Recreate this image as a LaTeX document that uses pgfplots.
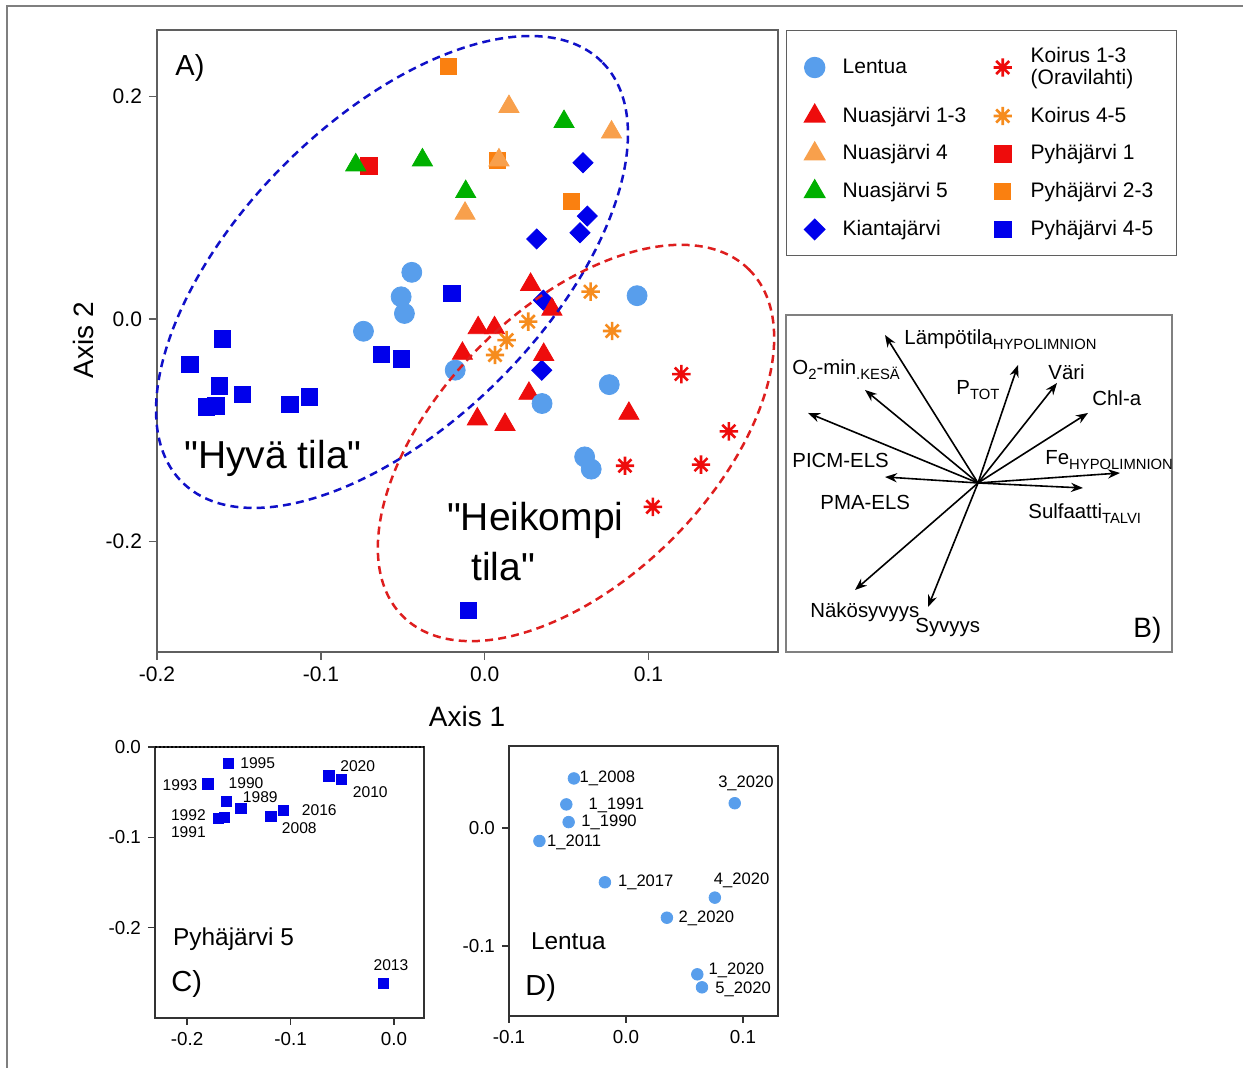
\documentclass[border=0pt]{standalone}
\usepackage{pgfplots}
\pgfplotsset{compat=1.18}
\usepackage{fontspec}
\setmainfont{Liberation Sans}
\usetikzlibrary{arrows.meta}
\definecolor{lentua}{RGB}{88,158,236}
\definecolor{cred}{RGB}{238,12,12}
\definecolor{lorange}{RGB}{248,160,76}
\definecolor{dorange}{RGB}{250,128,16}
\definecolor{korange}{RGB}{246,140,30}
\definecolor{cgreen}{RGB}{0,176,0}
\definecolor{cblue}{RGB}{0,0,235}
\definecolor{eblue}{RGB}{16,16,200}
\definecolor{ered}{RGB}{222,30,30}
\definecolor{frame}{RGB}{95,95,95}

\pgfdeclareplotmark{ast8}{%
  \pgfpathmoveto{\pgfqpoint{0pt}{\pgfplotmarksize}}\pgfpathlineto{\pgfqpoint{0pt}{-\pgfplotmarksize}}%
  \pgfpathmoveto{\pgfqpoint{\pgfplotmarksize}{0pt}}\pgfpathlineto{\pgfqpoint{-\pgfplotmarksize}{0pt}}%
  \pgfpathmoveto{\pgfqpoint{.707\pgfplotmarksize}{.707\pgfplotmarksize}}\pgfpathlineto{\pgfqpoint{-.707\pgfplotmarksize}{-.707\pgfplotmarksize}}%
  \pgfpathmoveto{\pgfqpoint{-.707\pgfplotmarksize}{.707\pgfplotmarksize}}\pgfpathlineto{\pgfqpoint{.707\pgfplotmarksize}{-.707\pgfplotmarksize}}%
  \pgfusepathqstroke}

\newcommand\sub[1]{\raisebox{-0.45ex}{\fontsize{7.4}{8}\selectfont #1}}

\pgfplotsset{
  base/.style={scale only axis, clip=false, anchor=south west,
    axis line style={draw=frame, line width=0.7pt},
    tick style={draw=frame, line width=0.7pt}, tick align=outside, major tick length=4pt,
    xtick pos=bottom, ytick pos=left,
    ticklabel style={font=\fontsize{10.5}{12}\selectfont}},
  small/.style={base, axis line style={draw=black!80, line width=0.7pt},
    tick style={draw=black!80, line width=0.7pt}, major tick length=3.5pt,
    ticklabel style={font=\fontsize{9.4}{11}\selectfont}},
  lent/.style={only marks, mark=*, mark size=5pt, color=lentua},
  nua13/.style={only marks, mark=triangle*, mark size=5.8pt, color=cred},
  nua4/.style={only marks, mark=triangle*, mark size=5.8pt, color=lorange},
  nua5/.style={only marks, mark=triangle*, mark size=5.8pt, color=cgreen},
  kian/.style={only marks, mark=square*, mark size=3.55pt, mark options={rotate=45}, color=cblue},
  koi13/.style={only marks, mark=ast8, mark size=4.6pt, mark options={line width=1.3pt}, color=cred},
  koi45/.style={only marks, mark=ast8, mark size=4.6pt, mark options={line width=1.3pt}, color=korange},
  pyh1/.style={only marks, mark=square*, mark size=4.2pt, color=cred},
  pyh23/.style={only marks, mark=square*, mark size=4pt, color=dorange},
  pyh45/.style={only marks, mark=square*, mark size=4.1pt, color=cblue},
  vec/.style={black, solid, no markers, line width=0.8pt, -{Stealth[length=6pt,width=4.6pt]}},
}

\pgfplotstableread{
x y
-0.160 -0.018
-0.180 -0.041
-0.162 -0.060
-0.148 -0.068
-0.170 -0.079
-0.164 -0.078
-0.119 -0.077
-0.107 -0.070
-0.063 -0.032
-0.051 -0.036
-0.010 -0.262
}\pyhfive
\pgfplotstableread{
x y
-0.0445 0.042
-0.051 0.020
-0.049 0.005
-0.074 -0.011
-0.018 -0.046
0.076 -0.059
0.035 -0.076
0.093 0.021
0.061 -0.124
0.065 -0.135
}\lentua

\begin{document}
\begin{tikzpicture}
\useasboundingbox (0,0) rectangle (621.5pt,534pt);
\draw[frame!80, line width=0.8pt] (3.5pt,0) -- (3.5pt,531pt) -- (621.5pt,531pt);

% ---------------- Panel A
\begin{axis}[base, at={(78.5pt,208pt)}, width=310.5pt, height=311pt,
  xmin=-0.2, xmax=0.179, ymin=-0.2995, ymax=0.26,
  xtick={-0.2,-0.1,0,0.1}, xticklabels={-0.2,-0.1,0.0,0.1},
  ytick={-0.2,0,0.2}, yticklabels={-0.2,0.0,0.2},
  legend columns=2, legend cell align=left,
  legend image code/.code={\draw[#1] plot coordinates {(0pt,0pt)}; \path[draw=none, fill=none] (-9pt,0pt) -- (12pt,0pt);},
  legend style={at={(axis description cs:1.0129,1)}, anchor=north west,
    draw=frame, line width=0.7pt, inner xsep=5pt, inner ysep=6.5pt, row sep=5.8pt,
    font=\fontsize{10.5}{12.6}\selectfont,
    /tikz/every even column/.append style={column sep=5pt}},
]
\addplot[pyh45, forget plot] table {\pyhfive};
\addplot[pyh45, forget plot] coordinates {(-0.020,0.023)};
\addplot[pyh1, forget plot] coordinates {(-0.0705,0.1376)};
\addplot[pyh23, forget plot] coordinates {(-0.022,0.227) (0.0528,0.1055) (0.008,0.143)};
\addplot[kian, forget plot] coordinates {(0.060,0.1406) (0.0626,0.0926) (0.0581,0.0776) (0.0317,0.072) (0.0358,0.017) (0.0348,-0.046)};
\addplot[nua13, forget plot] coordinates {(0.028,0.031) (0.041,0.0087) (-0.004,-0.008) (0.006,-0.008) (-0.0136,-0.031) (0.036,-0.032) (0.027,-0.067) (0.088,-0.085) (-0.0045,-0.090) (0.0124,-0.095)};
\addplot[nua4, forget plot] coordinates {(0.0148,0.191) (0.0774,0.168) (0.0087,0.143) (-0.012,0.095)};
\addplot[nua5, forget plot] coordinates {(-0.0787,0.1385) (-0.038,0.143) (-0.0116,0.1145) (0.0484,0.1775)};
\addplot[lent, forget plot] table {\lentua};
\addplot[koi45, forget plot] coordinates {(0.0646,0.0246) (0.0266,-0.0024) (0.0134,-0.019) (0.0063,-0.0324) (0.0778,-0.0108)};
\addplot[koi13, forget plot] coordinates {(0.120,-0.0495) (0.149,-0.101) (0.0856,-0.132) (0.132,-0.131) (0.1026,-0.169)};

\node[anchor=west, inner sep=0, font=\fontsize{14.5}{16}\selectfont] at (axis cs:-0.189,0.2257) {A)};
\node[anchor=west, inner sep=0, font=\fontsize{19.5}{22}\selectfont] at (axis cs:-0.1835,-0.125) {\textquotedbl Hyvä tila\textquotedbl};
\node[anchor=west, inner sep=0, font=\fontsize{19.5}{22}\selectfont] at (axis cs:-0.0232,-0.1808) {\textquotedbl Heikompi};
\node[anchor=west, inner sep=0, font=\fontsize{19.5}{22}\selectfont] at (axis cs:-0.0085,-0.223) {tila\textquotedbl};

% legend (row-wise, two columns)
\addlegendimage{lent}\addlegendentry{\makebox[64pt][l]{Lentua}}
\addlegendimage{koi13}\addlegendentry{\makebox[66pt][l]{\shortstack[l]{Koirus 1-3\\(Oravilahti)}}}
\addlegendimage{nua13}\addlegendentry{Nuasjärvi 1-3}
\addlegendimage{koi45}\addlegendentry{Koirus 4-5}
\addlegendimage{nua4}\addlegendentry{Nuasjärvi 4}
\addlegendimage{pyh1}\addlegendentry{Pyhäjärvi 1}
\addlegendimage{nua5}\addlegendentry{Nuasjärvi 5}
\addlegendimage{pyh23}\addlegendentry{Pyhäjärvi 2-3}
\addlegendimage{kian}\addlegendentry{Kiantajärvi}
\addlegendimage{pyh45}\addlegendentry{Pyhäjärvi 4-5}
\end{axis}

% hand-drawn group outlines of panel A
\draw[eblue, line width=1.25pt, dash pattern=on 4pt off 2.6pt, rotate around={45:(196pt,398pt)}]
  (196pt,398pt) ellipse [x radius=148.5pt, y radius=76pt];
\draw[ered, line width=1.25pt, dash pattern=on 4pt off 2.6pt, rotate around={45:(288pt,312.5pt)}]
  (288pt,312.5pt) ellipse [x radius=122.5pt, y radius=68pt];

% ---------------- Panel B
\begin{axis}[base, at={(393pt,208pt)}, width=193pt, height=168.5pt,
  xmin=-192, xmax=194, ymin=-169, ymax=168, xtick=\empty, ytick=\empty,
  axis line style={draw=black!50, line width=0.7pt},
]
\addplot[vec] coordinates {(0,0) (-93,148)};
\addplot[vec] coordinates {(0,0) (-113,93)};
\addplot[vec] coordinates {(0,0) (-170,70)};
\addplot[vec] coordinates {(0,0) (-93,6)};
\addplot[vec] coordinates {(0,0) (40,118)};
\addplot[vec] coordinates {(0,0) (79,100)};
\addplot[vec] coordinates {(0,0) (110,70)};
\addplot[vec] coordinates {(0,0) (142,10)};
\addplot[vec] coordinates {(0,0) (105,-5)};
\addplot[vec] coordinates {(0,0) (-123,-107)};
\addplot[vec] coordinates {(0,0) (-50,-124)};
\begin{scope}[every node/.style={anchor=west, inner sep=0, font=\fontsize{10.2}{12}\selectfont}]
\node at (axis cs:-74,143) {Lämpötila\sub{HYPOLIMNION}};
\node at (axis cs:-186,113) {O\sub{2}-min\sub{.KESÄ}};
\node at (axis cs:-22,93) {P\sub{TOT}};
\node at (axis cs:70,111) {Väri};
\node at (axis cs:114,85) {Chl-a};
\node at (axis cs:67,23) {Fe\sub{HYPOLIMNION}};
\node at (axis cs:50,-31) {Sulfaatti\sub{TALVI}};
\node at (axis cs:-186,23) {PICM-ELS};
\node at (axis cs:-158,-19) {PMA-ELS};
\node at (axis cs:-168,-129) {Näkösyvyys};
\node at (axis cs:-63,-145) {Syvyys};
\node[font=\fontsize{14}{16}\selectfont] at (axis cs:155,-147) {B)};
\end{scope}
\end{axis}

% ---------------- Panel C
\begin{axis}[small, at={(77.5pt,25pt)}, width=134.5pt, height=135.5pt,
  xmin=-0.231, xmax=0.029, ymin=-0.30, ymax=0.0,
  xtick={-0.2,-0.1,0}, xticklabels={-0.2,-0.1,0.0},
  ytick={-0.2,-0.1,0}, yticklabels={-0.2,-0.1,0.0},
]
\draw[black, line width=0.9pt, dash pattern=on 0.8pt off 1.2pt] (axis cs:-0.231,0) -- (axis cs:0.029,0);
\addplot[pyh45, mark size=2.6pt] table {\pyhfive};
\begin{scope}[every node/.style={inner sep=0, font=\fontsize{7.8}{9}\selectfont}]
\node at (axis cs:-0.1317,-0.0181) {1995};
\node at (axis cs:-0.2068,-0.0422) {1993};
\node at (axis cs:-0.1430,-0.0404) {1990};
\node at (axis cs:-0.1292,-0.0560) {1989};
\node at (axis cs:-0.1987,-0.0756) {1992};
\node at (axis cs:-0.1987,-0.0948) {1991};
\node at (axis cs:-0.0915,-0.0903) {2008};
\node at (axis cs:-0.0722,-0.0700) {2016};
\node at (axis cs:-0.0351,-0.0208) {2020};
\node at (axis cs:-0.0229,-0.0503) {2010};
\node at (axis cs:-0.0029,-0.2414) {2013};
\node[anchor=west, font=\fontsize{12.2}{14}\selectfont] at (axis cs:-0.2138,-0.2133) {Pyhäjärvi 5};
\node[anchor=west, font=\fontsize{14.5}{16}\selectfont] at (axis cs:-0.2155,-0.2626) {C)};
\end{scope}
\end{axis}

% ---------------- Panel D
\begin{axis}[small, at={(254.5pt,26pt)}, width=134.5pt, height=135pt,
  xmin=-0.1, xmax=0.13, ymin=-0.1593, ymax=0.0695,
  xtick={-0.1,0,0.1}, xticklabels={-0.1,0.0,0.1},
  ytick={-0.1,0}, yticklabels={-0.1,0.0},
]
\addplot[lent, mark size=2.9pt] table {\lentua};
\begin{scope}[every node/.style={anchor=west, inner sep=0, font=\fontsize{8.3}{9}\selectfont}]
\node at (axis cs:-0.0399,0.0421) {1\_2008};
\node at (axis cs:-0.0322,0.0189) {1\_1991};
\node at (axis cs:-0.0385,0.0048) {1\_1990};
\node at (axis cs:-0.0678,-0.0121) {1\_2011};
\node at (axis cs:-0.0071,-0.0460) {1\_2017};
\node[anchor=center] at (axis cs:0.0989,-0.0446) {4\_2020};
\node at (axis cs:0.0447,-0.0765) {2\_2020};
\node[anchor=center] at (axis cs:0.1026,0.0379) {3\_2020};
\node at (axis cs:0.0704,-0.1203) {1\_2020};
\node at (axis cs:0.0761,-0.1367) {5\_2020};
\node[font=\fontsize{12.2}{14}\selectfont] at (axis cs:-0.0815,-0.0958) {Lentua};
\node[font=\fontsize{14.5}{16}\selectfont] at (axis cs:-0.0863,-0.1358) {D)};
\end{scope}
\end{axis}

% axis titles of A
\node[font=\fontsize{14}{16}\selectfont] at (233.5pt,175.5pt) {Axis 1};
\node[font=\fontsize{14}{16}\selectfont, rotate=90] at (41.5pt,364pt) {Axis 2};
\end{tikzpicture}
\end{document}
